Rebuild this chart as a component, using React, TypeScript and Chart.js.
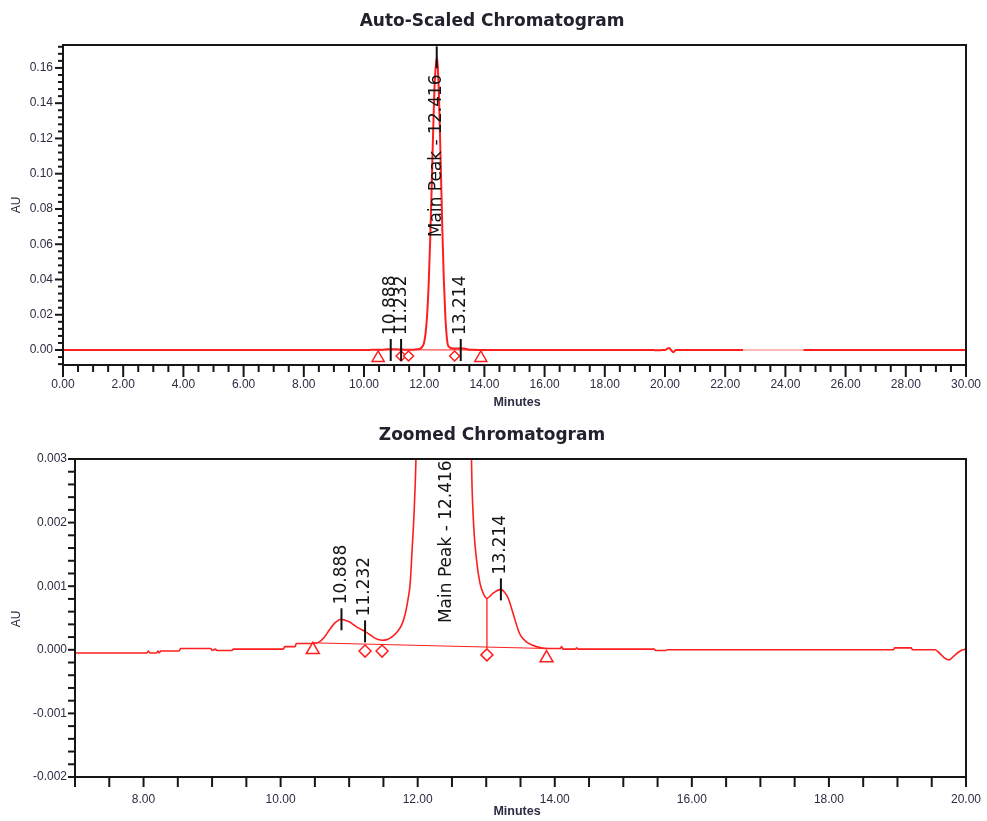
import React, { useEffect, useRef } from 'react';
import { Chart, registerables } from 'chart.js';

Chart.register(...registerables);

// ---- chromatogram trace (minutes, AU) ----
const traceTime = [
  0.0, 1.0, 2.0, 3.0, 4.0, 5.0, 6.0, 7.0, 7.6, 8.05, 8.07, 8.09, 8.19, 8.21, 8.23, 8.25,
  8.52, 8.54, 8.98, 9.0, 9.05, 9.07, 9.29, 9.31, 10.04, 10.06, 10.21, 10.23, 10.46, 10.56,
  10.64, 10.71, 10.8, 10.888, 10.95, 11.0, 11.07, 11.14, 11.232, 11.3, 11.38, 11.48, 11.55,
  11.62, 11.7, 11.77, 11.82, 11.86, 11.89, 11.92, 11.945, 11.975, 12.0, 12.05, 12.1, 12.15,
  12.2, 12.25, 12.3, 12.35, 12.416, 12.45, 12.5, 12.55, 12.6, 12.65, 12.7, 12.73, 12.76,
  12.785, 12.81, 12.86, 12.91, 12.96, 13.01, 13.1, 13.214, 13.27, 13.32, 13.37, 13.42, 13.47,
  13.51, 13.58, 13.66, 13.8, 13.92, 14.08, 14.1, 14.12, 14.3, 14.32, 14.34, 14.6, 15.0, 15.45,
  15.47, 15.62, 15.64, 16.5, 17.5, 18.94, 18.96, 19.2, 19.22, 19.55, 19.62, 19.7, 19.75, 19.82,
  19.9, 19.96, 20.0, 20.08, 20.14, 20.2, 20.28, 20.36, 21.0, 22.6, 23.6, 24.6, 26.0, 28.0, 30.0,
];
const traceAU = [
  -0.00005, -0.00004, -0.00005, -0.00004, -0.00005, -0.00005, -0.00004, -0.00005, -0.00005,
  -0.00005, -0.00002, -0.00005, -0.00005, -0.00002, -0.00005, -0.00002,
  -0.00002, 0.00002, 0.00002, -0.00001, 0.00001, -0.00001, -0.00001, 0.00001, 0.00001, 0.00005,
  0.00005, 0.0001, 0.0001, 0.00012,
  0.0002, 0.00031, 0.00043, 0.00048, 0.00046, 0.00044, 0.00039, 0.00034, 0.00029, 0.00024,
  0.00018, 0.00015, 0.00016,
  0.0002, 0.00028, 0.0004, 0.00057, 0.0008, 0.00104, 0.0016, 0.0021, 0.003, 0.0045, 0.0102,
  0.0207, 0.038,
  0.0628, 0.0935, 0.1255, 0.1516, 0.166, 0.161, 0.1387, 0.105, 0.07, 0.041, 0.02, 0.0115, 0.0058,
  0.003, 0.0021, 0.0014, 0.00104, 0.00088, 0.00081, 0.00089, 0.00095, 0.0009, 0.00081, 0.00065,
  0.00047, 0.0003,
  0.00021, 0.00013, 0.00008, 0.00003, 0.00002, 0.00002, 0.00005, 0.00001, 0.00001, 0.00003,
  0.00001, 0.00001, 0.00001, 0.00001,
  -0.00001, -0.00001, 0.0, 0.0, 0.0, 0.0, 0.00003, 0.00003, 0.0, 0.0, -0.00006, -0.00014,
  -0.00016, -0.0001,
  -0.00003, 0.0, 0.00002, 0.0008, 0.0012, 0.0, -0.0012, 0.0, 0.0, 0.0, 0.0, 0.0, 0.0, 0.0, 0.0,
];

// ---- integration marks ----
const triangleTime = [10.47, 13.88];
const diamondTime = [11.232, 11.48, 13.01];
const topTriangleAU = [-0.0045, -0.0045];
const topDiamondAU = [-0.0034, -0.0034, -0.0034];
const zoomTriangleAU = [0.0, -0.00013];
const zoomDiamondAU = [-0.00002, -0.00002, -0.00008];
const integrationTime = [10.47, 13.88];
const integrationAU = [0.00011, 0.00002];
const dropTime = [13.01, 13.01];
const dropAU = [0.00081, 0.00003];

// ---- peak labels ----
const peakNames = ['10.888', '11.232', 'Main Peak - 12.416', '13.214'];
const peakTime = [10.888, 11.232, 12.416, 13.214];
const topPeakApexAU = [0, 0, 0.166, 0];
const topPeakTextFromAU: (number | null)[] = [null, null, 0.064, null];
const zoomPeakApexAU = [0.00048, 0.00029, 0.166, 0.00095];
const zoomPeakTextFromAU: (number | null)[] = [null, null, 0.00042, null];

// ---- axis ticks ----
const topXTicks = [0, 2, 4, 6, 8, 10, 12, 14, 16, 18, 20, 22, 24, 26, 28, 30];
const topYTicks = [0, 0.02, 0.04, 0.06, 0.08, 0.1, 0.12, 0.14, 0.16];
const zoomXTicks = [8, 10, 12, 14, 16, 18, 20];
const zoomYTicks = [-0.002, -0.001, 0, 0.001, 0.002, 0.003];

const RED = '#ff1e1e';
const TICK_TEXT = '#2c2c44';

type Spec = {
  height: number;
  title: string;
  titleY: number;
  auY: number;
  minutesY: number;
  xMin: number; xMax: number; yMin: number; yMax: number;
  xTicks: number[]; yTicks: number[]; xDec: number; yDec: number;
  xMajorStep: number; xMinorStep: number; xMajorLen: number; xMinorLen: number;
  yMajorStep: number; yMinorStep: number; yMajorLen: number; yMinorLen: number;
  padTop: number; padRight: number; yAxisW: number; xAxisH: number;
  yLabelPad: number; xLabelPad: number;
  triAU: number[]; diaAU: number[]; triR: number; diaR: number;
  lineW: number;
  apex: number[]; textFrom: (number | null)[];
  fadeFrom: number; fadeTo: number;
};

const topSpec: Spec = {
  height: 415, title: 'Auto-Scaled Chromatogram', titleY: 22, auY: 205, minutesY: 403,
  xMin: 0, xMax: 30, yMin: -0.0085, yMax: 0.173,
  xTicks: topXTicks, yTicks: topYTicks, xDec: 2, yDec: 2,
  xMajorStep: 2, xMinorStep: 0.5, xMajorLen: 12, xMinorLen: 7,
  yMajorStep: 0.02, yMinorStep: 0.004, yMajorLen: 8, yMinorLen: 5,
  padTop: 45, padRight: 21, yAxisW: 63, xAxisH: 50, yLabelPad: 10, xLabelPad: 12,
  triAU: topTriangleAU, diaAU: topDiamondAU, triR: 7, diaR: 5, lineW: 2,
  apex: topPeakApexAU, textFrom: topPeakTextFromAU, fadeFrom: 22.6, fadeTo: 24.6,
};

const zoomSpec: Spec = {
  height: 406, title: 'Zoomed Chromatogram', titleY: 21, auY: 204, minutesY: 397,
  xMin: 7, xMax: 20, yMin: -0.002, yMax: 0.003,
  xTicks: zoomXTicks, yTicks: zoomYTicks, xDec: 2, yDec: 3,
  xMajorStep: 2, xMinorStep: 0.5, xMajorLen: 10, xMinorLen: 10,
  yMajorStep: 0.001, yMinorStep: 0.0002, yMajorLen: 7, yMinorLen: 7,
  padTop: 44, padRight: 21, yAxisW: 75, xAxisH: 44, yLabelPad: 8, xLabelPad: 15,
  triAU: zoomTriangleAU, diaAU: zoomDiamondAU, triR: 7.5, diaR: 6, lineW: 1.6,
  apex: zoomPeakApexAU, textFrom: zoomPeakTextFromAU, fadeFrom: 99, fadeTo: 99,
};

function decorPlugin(s: Spec) {
  return {
    id: 'chromDecor',
    afterDraw(chart: any) {
      const { ctx, chartArea: a } = chart;
      const xs = chart.scales.x;
      const ys = chart.scales.y;
      const eps = 1e-7;
      ctx.save();
      // frame
      ctx.strokeStyle = '#161616';
      ctx.lineWidth = 2;
      ctx.strokeRect(a.left, a.top, a.right - a.left, a.bottom - a.top);
      // x ticks
      for (let k = 0; ; k++) {
        const v = s.xMin + k * s.xMinorStep;
        if (v > s.xMax + eps) break;
        const r = v / s.xMajorStep;
        const major = Math.abs(r - Math.round(r)) < 1e-6;
        const px = xs.getPixelForValue(v);
        ctx.beginPath();
        ctx.moveTo(px, a.bottom);
        ctx.lineTo(px, a.bottom + (major ? s.xMajorLen : s.xMinorLen));
        ctx.stroke();
      }
      // y ticks
      const start = Math.ceil((s.yMin - eps) / s.yMinorStep);
      for (let k = start; ; k++) {
        const v = k * s.yMinorStep;
        if (v > s.yMax + eps) break;
        const r = v / s.yMajorStep;
        const major = Math.abs(r - Math.round(r)) < 1e-4;
        const py = ys.getPixelForValue(v);
        ctx.beginPath();
        ctx.moveTo(a.left - (major ? s.yMajorLen : s.yMinorLen), py);
        ctx.lineTo(a.left, py);
        ctx.stroke();
      }
      // peak ticks (clipped)
      ctx.save();
      ctx.beginPath();
      ctx.rect(a.left, a.top, a.right - a.left, a.bottom - a.top);
      ctx.clip();
      ctx.strokeStyle = '#111';
      ctx.lineWidth = 2;
      peakTime.forEach((t, i) => {
        const px = xs.getPixelForValue(t);
        const py = ys.getPixelForValue(s.apex[i]);
        ctx.beginPath();
        ctx.moveTo(px, py - 11);
        ctx.lineTo(px, py + 11);
        ctx.stroke();
      });
      ctx.restore();
      // peak labels
      ctx.fillStyle = '#141414';
      ctx.font = '17px "DejaVu Sans"';
      ctx.textAlign = 'left';
      ctx.textBaseline = 'middle';
      peakTime.forEach((t, i) => {
        const px = xs.getPixelForValue(t);
        const tf = s.textFrom[i];
        const y0 = tf === null ? ys.getPixelForValue(s.apex[i]) - 15 : ys.getPixelForValue(tf);
        ctx.save();
        ctx.translate(px, y0);
        ctx.rotate(-Math.PI / 2);
        ctx.fillText(peakNames[i], 0, 0);
        ctx.restore();
      });
      // title
      ctx.fillStyle = '#22222e';
      ctx.textAlign = 'center';
      ctx.font = 'bold 17px "DejaVu Sans"';
      ctx.fillText(s.title, 492, s.titleY);
      // axis titles
      ctx.fillStyle = TICK_TEXT;
      ctx.font = 'bold 12.5px "Liberation Sans"';
      ctx.fillText('Minutes', 517, s.minutesY);
      ctx.font = '12px "Liberation Sans"';
      ctx.save();
      ctx.translate(17, s.auY);
      ctx.rotate(-Math.PI / 2);
      ctx.fillText('AU', 0, 0);
      ctx.restore();
      ctx.restore();
    },
  };
}

function buildConfig(s: Spec): any {
  const trace = traceTime.map((t, i) => ({ x: t, y: traceAU[i] }));
  return {
    type: 'line',
    data: {
      datasets: [
        {
          label: 'start/end',
          data: triangleTime.map((t, i) => ({ x: t, y: s.triAU[i] })),
          showLine: false,
          pointStyle: 'triangle',
          pointRadius: s.triR,
          pointBorderColor: RED,
          pointBackgroundColor: '#ffffff',
          pointBorderWidth: 1.5,
          clip: false,
        },
        {
          label: 'drop',
          data: diamondTime.map((t, i) => ({ x: t, y: s.diaAU[i] })),
          showLine: false,
          pointStyle: 'rectRot',
          pointRadius: s.diaR,
          pointBorderColor: RED,
          pointBackgroundColor: '#ffffff',
          pointBorderWidth: 1.5,
          clip: false,
        },
        {
          label: 'baseline',
          data: integrationTime.map((t, i) => ({ x: t, y: integrationAU[i] })),
          borderColor: RED,
          borderWidth: 1,
          pointRadius: 0,
        },
        {
          label: 'dropline',
          data: dropTime.map((t, i) => ({ x: t, y: dropAU[i] })),
          borderColor: RED,
          borderWidth: 1.3,
          pointRadius: 0,
        },
        {
          label: 'trace',
          data: trace,
          borderColor: RED,
          borderWidth: s.lineW,
          pointRadius: 0,
          cubicInterpolationMode: 'monotone',
          segment: {
            borderColor: (c: any) =>
              c.p0.parsed.x >= s.fadeFrom - 1e-6 && c.p1.parsed.x <= s.fadeTo + 1e-6 ? '#ffb8b8' : undefined,
          },
        },
      ],
    },
    options: {
      responsive: false,
      animation: false,
      events: [],
      layout: { padding: { left: 0, right: s.padRight, top: s.padTop, bottom: 0 } },
      plugins: { legend: { display: false }, tooltip: { enabled: false }, title: { display: false } },
      scales: {
        x: {
          type: 'linear',
          min: s.xMin,
          max: s.xMax,
          grid: { display: false, drawTicks: false },
          border: { display: false },
          afterBuildTicks: (sc: any) => {
            sc.ticks = s.xTicks.map((v) => ({ value: v }));
          },
          afterFit: (sc: any) => {
            sc.height = s.xAxisH;
            sc.paddingLeft = 0;
            sc.paddingRight = 0;
          },
          ticks: {
            autoSkip: false,
            maxRotation: 0,
            padding: s.xLabelPad,
            color: TICK_TEXT,
            font: { family: 'Liberation Sans', size: 12 },
            callback: (v: any) => Number(v).toFixed(s.xDec),
          },
        },
        y: {
          type: 'linear',
          min: s.yMin,
          max: s.yMax,
          grid: { display: false, drawTicks: false },
          border: { display: false },
          afterBuildTicks: (sc: any) => {
            sc.ticks = s.yTicks.map((v) => ({ value: v }));
          },
          afterFit: (sc: any) => {
            sc.width = s.yAxisW;
            sc.paddingTop = 0;
            sc.paddingBottom = 0;
          },
          ticks: {
            autoSkip: false,
            padding: s.yLabelPad,
            color: TICK_TEXT,
            font: { family: 'Liberation Sans', size: 12 },
            callback: (v: any) => Number(v).toFixed(s.yDec),
          },
        },
      },
    },
    plugins: [decorPlugin(s)],
  };
}

export default function App() {
  const topRef = useRef<HTMLCanvasElement>(null);
  const zoomRef = useRef<HTMLCanvasElement>(null);
  useEffect(() => {
    const c1 = new Chart(topRef.current as HTMLCanvasElement, buildConfig(topSpec));
    const c2 = new Chart(zoomRef.current as HTMLCanvasElement, buildConfig(zoomSpec));
    return () => {
      c1.destroy();
      c2.destroy();
    };
  }, []);
  return (
    <div style={{ position: 'absolute', left: 0, top: 0, width: 987, height: 821, background: '#ffffff' }}>
      <canvas ref={topRef} width={987} height={topSpec.height} style={{ display: 'block' }} />
      <canvas ref={zoomRef} width={987} height={zoomSpec.height} style={{ display: 'block' }} />
    </div>
  );
}
